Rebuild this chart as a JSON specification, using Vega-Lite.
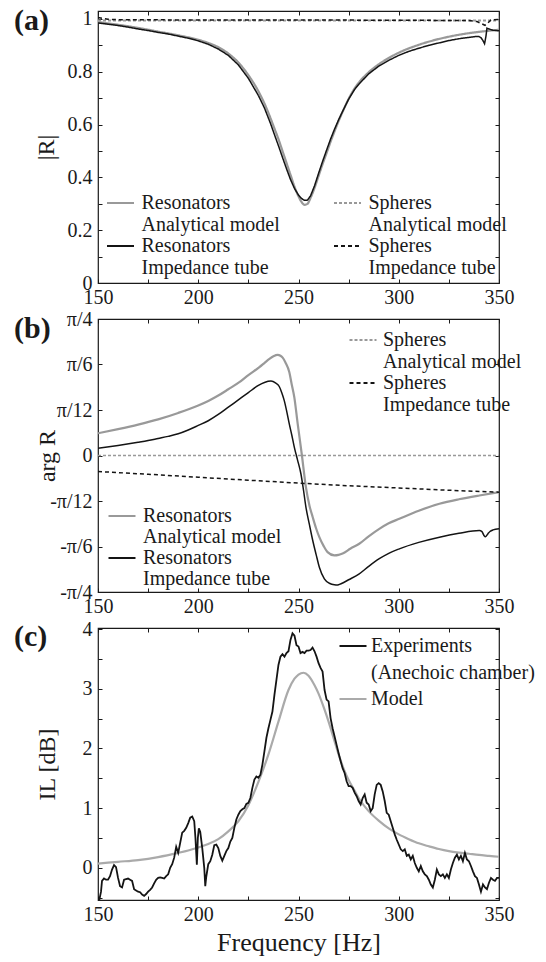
{
  "$schema": "https://vega.github.io/schema/vega-lite/v6.json",
  "background": "white",
  "padding": {"left": 13, "top": 5, "right": 5, "bottom": 5},
  "autosize": {"type": "pad"},
  "spacing": 36,
  "bounds": "flush",
  "resolve": {"scale": {"color": "independent", "strokeDash": "independent"}},
  "config": {
    "font": "Liberation Serif",
    "view": {"stroke": "#1a1a1a", "strokeWidth": 1.2},
    "axis": {"domain": false, "grid": false, "tickSize": -4, "tickColor": "#1a1a1a", "tickWidth": 1, "labelFont": "Liberation Serif", "labelFontSize": 20, "labelColor": "#1a1a1a", "labelPadding": 10, "labelFlush": false, "titleFont": "Liberation Serif", "titleFontSize": 24, "titleFontWeight": "normal", "titleColor": "#1a1a1a"},
    "axisX": {"labelPadding": 8},
    "legend": {"labelFont": "Liberation Serif", "labelFontSize": 20, "labelColor": "#1a1a1a", "symbolType": "M-3,0H3", "symbolSize": 81, "symbolStrokeWidth": 2, "padding": 0, "rowPadding": 1, "labelOffset": 11, "labelLimit": 400},
    "title": {"font": "Liberation Serif", "fontSize": 30, "fontWeight": "bold", "anchor": "start", "frame": "group", "color": "#1a1a1a", "baseline": "alphabetic"}
  },
  "datasets": {
    "a": [
      {"f":150,"v":0.988,"s":"m~Resonators~ra"},{"f":160,"v":0.978,"s":"m~Resonators~ra"},{"f":170,"v":0.966,"s":"m~Resonators~ra"},{"f":180,"v":0.952,"s":"m~Resonators~ra"},{"f":190,"v":0.938,"s":"m~Resonators~ra"},{"f":200,"v":0.921,"s":"m~Resonators~ra"},{"f":205,"v":0.909,"s":"m~Resonators~ra"},{"f":210,"v":0.893,"s":"m~Resonators~ra"},{"f":215,"v":0.869,"s":"m~Resonators~ra"},{"f":220,"v":0.835,"s":"m~Resonators~ra"},{"f":225,"v":0.787,"s":"m~Resonators~ra"},{"f":230,"v":0.726,"s":"m~Resonators~ra"},{"f":233,"v":0.68,"s":"m~Resonators~ra"},{"f":236,"v":0.625,"s":"m~Resonators~ra"},{"f":238,"v":0.585,"s":"m~Resonators~ra"},{"f":240,"v":0.545,"s":"m~Resonators~ra"},{"f":242,"v":0.5,"s":"m~Resonators~ra"},{"f":244,"v":0.455,"s":"m~Resonators~ra"},{"f":246,"v":0.41,"s":"m~Resonators~ra"},{"f":248,"v":0.365,"s":"m~Resonators~ra"},{"f":250,"v":0.328,"s":"m~Resonators~ra"},{"f":251.5,"v":0.307,"s":"m~Resonators~ra"},{"f":253,"v":0.296,"s":"m~Resonators~ra"},{"f":254.5,"v":0.3,"s":"m~Resonators~ra"},{"f":256,"v":0.322,"s":"m~Resonators~ra"},{"f":258,"v":0.36,"s":"m~Resonators~ra"},{"f":260,"v":0.405,"s":"m~Resonators~ra"},{"f":262,"v":0.45,"s":"m~Resonators~ra"},{"f":264,"v":0.492,"s":"m~Resonators~ra"},{"f":266,"v":0.535,"s":"m~Resonators~ra"},{"f":268,"v":0.575,"s":"m~Resonators~ra"},{"f":270,"v":0.613,"s":"m~Resonators~ra"},{"f":272,"v":0.648,"s":"m~Resonators~ra"},{"f":275,"v":0.697,"s":"m~Resonators~ra"},{"f":278,"v":0.737,"s":"m~Resonators~ra"},{"f":280,"v":0.758,"s":"m~Resonators~ra"},{"f":285,"v":0.798,"s":"m~Resonators~ra"},{"f":290,"v":0.828,"s":"m~Resonators~ra"},{"f":295,"v":0.852,"s":"m~Resonators~ra"},{"f":300,"v":0.872,"s":"m~Resonators~ra"},{"f":310,"v":0.902,"s":"m~Resonators~ra"},{"f":320,"v":0.924,"s":"m~Resonators~ra"},{"f":330,"v":0.94,"s":"m~Resonators~ra"},{"f":340,"v":0.951,"s":"m~Resonators~ra"},{"f":350,"v":0.959,"s":"m~Resonators~ra"},
      {"f":150,"v":0.994,"s":"m~Spheres~sa"},{"f":200,"v":0.994,"s":"m~Spheres~sa"},{"f":250,"v":0.994,"s":"m~Spheres~sa"},{"f":300,"v":0.994,"s":"m~Spheres~sa"},{"f":350,"v":0.994,"s":"m~Spheres~sa"},
      {"f":150,"v":0.985,"s":"m~Resonators~ri"},{"f":155,"v":0.98,"s":"m~Resonators~ri"},{"f":160,"v":0.975,"s":"m~Resonators~ri"},{"f":165,"v":0.969,"s":"m~Resonators~ri"},{"f":170,"v":0.962,"s":"m~Resonators~ri"},{"f":175,"v":0.956,"s":"m~Resonators~ri"},{"f":180,"v":0.949,"s":"m~Resonators~ri"},{"f":185,"v":0.943,"s":"m~Resonators~ri"},{"f":190,"v":0.935,"s":"m~Resonators~ri"},{"f":195,"v":0.927,"s":"m~Resonators~ri"},{"f":200,"v":0.917,"s":"m~Resonators~ri"},{"f":205,"v":0.904,"s":"m~Resonators~ri"},{"f":210,"v":0.886,"s":"m~Resonators~ri"},{"f":215,"v":0.862,"s":"m~Resonators~ri"},{"f":220,"v":0.826,"s":"m~Resonators~ri"},{"f":225,"v":0.775,"s":"m~Resonators~ri"},{"f":230,"v":0.71,"s":"m~Resonators~ri"},{"f":233,"v":0.663,"s":"m~Resonators~ri"},{"f":236,"v":0.605,"s":"m~Resonators~ri"},{"f":238,"v":0.562,"s":"m~Resonators~ri"},{"f":240,"v":0.52,"s":"m~Resonators~ri"},{"f":242,"v":0.476,"s":"m~Resonators~ri"},{"f":244,"v":0.433,"s":"m~Resonators~ri"},{"f":246,"v":0.392,"s":"m~Resonators~ri"},{"f":248,"v":0.358,"s":"m~Resonators~ri"},{"f":250,"v":0.333,"s":"m~Resonators~ri"},{"f":251.5,"v":0.32,"s":"m~Resonators~ri"},{"f":253,"v":0.313,"s":"m~Resonators~ri"},{"f":254.5,"v":0.314,"s":"m~Resonators~ri"},{"f":256,"v":0.33,"s":"m~Resonators~ri"},{"f":258,"v":0.368,"s":"m~Resonators~ri"},{"f":260,"v":0.415,"s":"m~Resonators~ri"},{"f":262,"v":0.46,"s":"m~Resonators~ri"},{"f":264,"v":0.503,"s":"m~Resonators~ri"},{"f":266,"v":0.545,"s":"m~Resonators~ri"},{"f":268,"v":0.583,"s":"m~Resonators~ri"},{"f":270,"v":0.618,"s":"m~Resonators~ri"},{"f":272,"v":0.65,"s":"m~Resonators~ri"},{"f":275,"v":0.696,"s":"m~Resonators~ri"},{"f":278,"v":0.733,"s":"m~Resonators~ri"},{"f":280,"v":0.752,"s":"m~Resonators~ri"},{"f":285,"v":0.792,"s":"m~Resonators~ri"},{"f":290,"v":0.821,"s":"m~Resonators~ri"},{"f":295,"v":0.843,"s":"m~Resonators~ri"},{"f":300,"v":0.862,"s":"m~Resonators~ri"},{"f":305,"v":0.877,"s":"m~Resonators~ri"},{"f":310,"v":0.889,"s":"m~Resonators~ri"},{"f":315,"v":0.9,"s":"m~Resonators~ri"},{"f":320,"v":0.909,"s":"m~Resonators~ri"},{"f":325,"v":0.918,"s":"m~Resonators~ri"},{"f":330,"v":0.925,"s":"m~Resonators~ri"},{"f":335,"v":0.93,"s":"m~Resonators~ri"},{"f":338,"v":0.933,"s":"m~Resonators~ri"},{"f":340,"v":0.933,"s":"m~Resonators~ri"},{"f":341,"v":0.929,"s":"m~Resonators~ri"},{"f":342,"v":0.918,"s":"m~Resonators~ri"},{"f":342.8,"v":0.906,"s":"m~Resonators~ri"},{"f":343.5,"v":0.935,"s":"m~Resonators~ri"},{"f":344,"v":0.965,"s":"m~Resonators~ri"},{"f":345,"v":0.962,"s":"m~Resonators~ri"},{"f":347,"v":0.957,"s":"m~Resonators~ri"},{"f":350,"v":0.955,"s":"m~Resonators~ri"},
      {"f":150,"v":1.005,"s":"m~Spheres~si"},{"f":155,"v":0.999,"s":"m~Spheres~si"},{"f":160,"v":0.997,"s":"m~Spheres~si"},{"f":200,"v":0.996,"s":"m~Spheres~si"},{"f":250,"v":0.996,"s":"m~Spheres~si"},{"f":300,"v":0.995,"s":"m~Spheres~si"},{"f":335,"v":0.994,"s":"m~Spheres~si"},{"f":339,"v":0.99,"s":"m~Spheres~si"},{"f":341,"v":0.983,"s":"m~Spheres~si"},{"f":343,"v":0.976,"s":"m~Spheres~si"},{"f":344.5,"v":0.985,"s":"m~Spheres~si"},{"f":346,"v":0.996,"s":"m~Spheres~si"},{"f":350,"v":0.998,"s":"m~Spheres~si"}
    ],
    "b": [
      {"f":150,"v":0.128,"s":"m~Resonators~ra"},{"f":160,"v":0.152,"s":"m~Resonators~ra"},{"f":170,"v":0.178,"s":"m~Resonators~ra"},{"f":180,"v":0.208,"s":"m~Resonators~ra"},{"f":190,"v":0.245,"s":"m~Resonators~ra"},{"f":200,"v":0.288,"s":"m~Resonators~ra"},{"f":205,"v":0.314,"s":"m~Resonators~ra"},{"f":210,"v":0.345,"s":"m~Resonators~ra"},{"f":215,"v":0.381,"s":"m~Resonators~ra"},{"f":220.5,"v":0.422,"s":"m~Resonators~ra"},{"f":225,"v":0.463,"s":"m~Resonators~ra"},{"f":230.5,"v":0.508,"s":"m~Resonators~ra"},{"f":233,"v":0.532,"s":"m~Resonators~ra"},{"f":235.5,"v":0.556,"s":"m~Resonators~ra"},{"f":237.5,"v":0.571,"s":"m~Resonators~ra"},{"f":239.6,"v":0.579,"s":"m~Resonators~ra"},{"f":241,"v":0.574,"s":"m~Resonators~ra"},{"f":242.1,"v":0.563,"s":"m~Resonators~ra"},{"f":243.5,"v":0.535,"s":"m~Resonators~ra"},{"f":245.4,"v":0.48,"s":"m~Resonators~ra"},{"f":246.6,"v":0.41,"s":"m~Resonators~ra"},{"f":247.9,"v":0.336,"s":"m~Resonators~ra"},{"f":249.6,"v":0.182,"s":"m~Resonators~ra"},{"f":251.6,"v":0.01,"s":"m~Resonators~ra"},{"f":253.7,"v":-0.182,"s":"m~Resonators~ra"},{"f":255.5,"v":-0.29,"s":"m~Resonators~ra"},{"f":257.1,"v":-0.355,"s":"m~Resonators~ra"},{"f":258.8,"v":-0.42,"s":"m~Resonators~ra"},{"f":260.4,"v":-0.47,"s":"m~Resonators~ra"},{"f":262.5,"v":-0.52,"s":"m~Resonators~ra"},{"f":264.5,"v":-0.556,"s":"m~Resonators~ra"},{"f":267.9,"v":-0.575,"s":"m~Resonators~ra"},{"f":270,"v":-0.572,"s":"m~Resonators~ra"},{"f":272,"v":-0.564,"s":"m~Resonators~ra"},{"f":276,"v":-0.535,"s":"m~Resonators~ra"},{"f":280.3,"v":-0.508,"s":"m~Resonators~ra"},{"f":285,"v":-0.465,"s":"m~Resonators~ra"},{"f":290.3,"v":-0.422,"s":"m~Resonators~ra"},{"f":295,"v":-0.39,"s":"m~Resonators~ra"},{"f":300.3,"v":-0.364,"s":"m~Resonators~ra"},{"f":310,"v":-0.318,"s":"m~Resonators~ra"},{"f":320.3,"v":-0.278,"s":"m~Resonators~ra"},{"f":330,"v":-0.252,"s":"m~Resonators~ra"},{"f":340.2,"v":-0.23,"s":"m~Resonators~ra"},{"f":350,"v":-0.211,"s":"m~Resonators~ra"},
      {"f":150,"v":0.042,"s":"m~Resonators~ri"},{"f":160,"v":0.058,"s":"m~Resonators~ri"},{"f":170,"v":0.076,"s":"m~Resonators~ri"},{"f":175,"v":0.086,"s":"m~Resonators~ri"},{"f":180,"v":0.098,"s":"m~Resonators~ri"},{"f":185,"v":0.11,"s":"m~Resonators~ri"},{"f":190,"v":0.125,"s":"m~Resonators~ri"},{"f":195,"v":0.147,"s":"m~Resonators~ri"},{"f":200,"v":0.173,"s":"m~Resonators~ri"},{"f":205,"v":0.2,"s":"m~Resonators~ri"},{"f":210,"v":0.236,"s":"m~Resonators~ri"},{"f":215,"v":0.278,"s":"m~Resonators~ri"},{"f":220,"v":0.32,"s":"m~Resonators~ri"},{"f":225,"v":0.362,"s":"m~Resonators~ri"},{"f":230,"v":0.403,"s":"m~Resonators~ri"},{"f":233,"v":0.42,"s":"m~Resonators~ri"},{"f":236.3,"v":0.428,"s":"m~Resonators~ri"},{"f":238.5,"v":0.418,"s":"m~Resonators~ri"},{"f":240.4,"v":0.397,"s":"m~Resonators~ri"},{"f":241.7,"v":0.36,"s":"m~Resonators~ri"},{"f":242.9,"v":0.316,"s":"m~Resonators~ri"},{"f":244.2,"v":0.25,"s":"m~Resonators~ri"},{"f":245.4,"v":0.182,"s":"m~Resonators~ri"},{"f":246.7,"v":0.115,"s":"m~Resonators~ri"},{"f":247.9,"v":0.048,"s":"m~Resonators~ri"},{"f":249.5,"v":-0.025,"s":"m~Resonators~ri"},{"f":251.2,"v":-0.105,"s":"m~Resonators~ri"},{"f":252.5,"v":-0.2,"s":"m~Resonators~ri"},{"f":253.7,"v":-0.297,"s":"m~Resonators~ri"},{"f":255.4,"v":-0.395,"s":"m~Resonators~ri"},{"f":257.1,"v":-0.489,"s":"m~Resonators~ri"},{"f":258.8,"v":-0.57,"s":"m~Resonators~ri"},{"f":260.4,"v":-0.643,"s":"m~Resonators~ri"},{"f":262.9,"v":-0.71,"s":"m~Resonators~ri"},{"f":265.4,"v":-0.735,"s":"m~Resonators~ri"},{"f":267.9,"v":-0.744,"s":"m~Resonators~ri"},{"f":269.5,"v":-0.745,"s":"m~Resonators~ri"},{"f":271.2,"v":-0.738,"s":"m~Resonators~ri"},{"f":275,"v":-0.715,"s":"m~Resonators~ri"},{"f":280.3,"v":-0.681,"s":"m~Resonators~ri"},{"f":285,"v":-0.638,"s":"m~Resonators~ri"},{"f":290.3,"v":-0.594,"s":"m~Resonators~ri"},{"f":295,"v":-0.563,"s":"m~Resonators~ri"},{"f":300.3,"v":-0.537,"s":"m~Resonators~ri"},{"f":310,"v":-0.5,"s":"m~Resonators~ri"},{"f":320.3,"v":-0.47,"s":"m~Resonators~ri"},{"f":330,"v":-0.448,"s":"m~Resonators~ri"},{"f":340.2,"v":-0.432,"s":"m~Resonators~ri"},{"f":341.5,"v":-0.438,"s":"m~Resonators~ri"},{"f":342.5,"v":-0.46,"s":"m~Resonators~ri"},{"f":343.3,"v":-0.467,"s":"m~Resonators~ri"},{"f":344.5,"v":-0.45,"s":"m~Resonators~ri"},{"f":345.5,"v":-0.437,"s":"m~Resonators~ri"},{"f":347,"v":-0.428,"s":"m~Resonators~ri"},{"f":350,"v":-0.422,"s":"m~Resonators~ri"},
      {"f":150,"v":0,"s":"m~Spheres~sa"},{"f":350,"v":0,"s":"m~Spheres~sa"},
      {"f":150,"v":-0.092,"s":"m~Spheres~si"},{"f":175,"v":-0.108,"s":"m~Spheres~si"},{"f":200,"v":-0.125,"s":"m~Spheres~si"},{"f":225,"v":-0.142,"s":"m~Spheres~si"},{"f":250,"v":-0.159,"s":"m~Spheres~si"},{"f":275,"v":-0.174,"s":"m~Spheres~si"},{"f":300,"v":-0.187,"s":"m~Spheres~si"},{"f":325,"v":-0.2,"s":"m~Spheres~si"},{"f":350,"v":-0.211,"s":"m~Spheres~si"}
    ],
    "cm": [
      {"f":150,"v":0.07,"s":"m~Model~m"},{"f":160,"v":0.1,"s":"m~Model~m"},{"f":170,"v":0.13,"s":"m~Model~m"},{"f":180,"v":0.18,"s":"m~Model~m"},{"f":190,"v":0.25,"s":"m~Model~m"},{"f":195,"v":0.29,"s":"m~Model~m"},{"f":200,"v":0.34,"s":"m~Model~m"},{"f":205,"v":0.4,"s":"m~Model~m"},{"f":210,"v":0.48,"s":"m~Model~m"},{"f":215,"v":0.61,"s":"m~Model~m"},{"f":220,"v":0.78,"s":"m~Model~m"},{"f":225,"v":1.05,"s":"m~Model~m"},{"f":230,"v":1.44,"s":"m~Model~m"},{"f":235,"v":1.9,"s":"m~Model~m"},{"f":240,"v":2.45,"s":"m~Model~m"},{"f":245,"v":2.98,"s":"m~Model~m"},{"f":248,"v":3.17,"s":"m~Model~m"},{"f":250,"v":3.24,"s":"m~Model~m"},{"f":252.5,"v":3.27,"s":"m~Model~m"},{"f":255,"v":3.22,"s":"m~Model~m"},{"f":258,"v":3.06,"s":"m~Model~m"},{"f":260,"v":2.92,"s":"m~Model~m"},{"f":263,"v":2.65,"s":"m~Model~m"},{"f":265,"v":2.45,"s":"m~Model~m"},{"f":268,"v":2.12,"s":"m~Model~m"},{"f":270,"v":1.9,"s":"m~Model~m"},{"f":273,"v":1.62,"s":"m~Model~m"},{"f":275,"v":1.47,"s":"m~Model~m"},{"f":278,"v":1.29,"s":"m~Model~m"},{"f":280,"v":1.17,"s":"m~Model~m"},{"f":285,"v":0.95,"s":"m~Model~m"},{"f":290,"v":0.79,"s":"m~Model~m"},{"f":295,"v":0.66,"s":"m~Model~m"},{"f":300,"v":0.56,"s":"m~Model~m"},{"f":305,"v":0.48,"s":"m~Model~m"},{"f":310,"v":0.41,"s":"m~Model~m"},{"f":315,"v":0.36,"s":"m~Model~m"},{"f":320,"v":0.315,"s":"m~Model~m"},{"f":325,"v":0.28,"s":"m~Model~m"},{"f":330,"v":0.255,"s":"m~Model~m"},{"f":335,"v":0.235,"s":"m~Model~m"},{"f":340,"v":0.215,"s":"m~Model~m"},{"f":345,"v":0.2,"s":"m~Model~m"},{"f":350,"v":0.185,"s":"m~Model~m"}
    ],
    "ce": [
      {"f":150,"v":-0.5,"s":"m~Experiments~e"},{"f":150.7,"v":-0.53,"s":"m~Experiments~e"},{"f":151.5,"v":-0.4,"s":"m~Experiments~e"},{"f":152,"v":-0.22,"s":"m~Experiments~e"},{"f":153,"v":-0.18,"s":"m~Experiments~e"},{"f":154,"v":-0.2,"s":"m~Experiments~e"},{"f":155,"v":-0.2,"s":"m~Experiments~e"},{"f":156,"v":-0.14,"s":"m~Experiments~e"},{"f":157,"v":-0.03,"s":"m~Experiments~e"},{"f":158,"v":0.045,"s":"m~Experiments~e"},{"f":159,"v":0.01,"s":"m~Experiments~e"},{"f":160,"v":-0.17,"s":"m~Experiments~e"},{"f":161,"v":-0.31,"s":"m~Experiments~e"},{"f":162,"v":-0.33,"s":"m~Experiments~e"},{"f":163,"v":-0.2,"s":"m~Experiments~e"},{"f":164,"v":-0.19,"s":"m~Experiments~e"},{"f":165,"v":-0.18,"s":"m~Experiments~e"},{"f":166,"v":-0.2,"s":"m~Experiments~e"},{"f":167,"v":-0.22,"s":"m~Experiments~e"},{"f":168,"v":-0.36,"s":"m~Experiments~e"},{"f":169,"v":-0.38,"s":"m~Experiments~e"},{"f":170,"v":-0.4,"s":"m~Experiments~e"},{"f":171,"v":-0.41,"s":"m~Experiments~e"},{"f":172,"v":-0.45,"s":"m~Experiments~e"},{"f":173,"v":-0.47,"s":"m~Experiments~e"},{"f":174,"v":-0.44,"s":"m~Experiments~e"},{"f":175,"v":-0.4,"s":"m~Experiments~e"},{"f":176,"v":-0.37,"s":"m~Experiments~e"},{"f":177,"v":-0.33,"s":"m~Experiments~e"},{"f":178,"v":-0.26,"s":"m~Experiments~e"},{"f":179,"v":-0.2,"s":"m~Experiments~e"},{"f":180,"v":-0.17,"s":"m~Experiments~e"},{"f":181,"v":-0.16,"s":"m~Experiments~e"},{"f":182,"v":-0.17,"s":"m~Experiments~e"},{"f":183,"v":-0.18,"s":"m~Experiments~e"},{"f":184,"v":-0.14,"s":"m~Experiments~e"},{"f":185,"v":-0.11,"s":"m~Experiments~e"},{"f":186,"v":0,"s":"m~Experiments~e"},{"f":187,"v":0.06,"s":"m~Experiments~e"},{"f":188,"v":0.17,"s":"m~Experiments~e"},{"f":189,"v":0.35,"s":"m~Experiments~e"},{"f":190,"v":0.25,"s":"m~Experiments~e"},{"f":191,"v":0.42,"s":"m~Experiments~e"},{"f":192,"v":0.59,"s":"m~Experiments~e"},{"f":193,"v":0.62,"s":"m~Experiments~e"},{"f":194,"v":0.67,"s":"m~Experiments~e"},{"f":195,"v":0.75,"s":"m~Experiments~e"},{"f":196,"v":0.84,"s":"m~Experiments~e"},{"f":197,"v":0.86,"s":"m~Experiments~e"},{"f":198,"v":0.78,"s":"m~Experiments~e"},{"f":198.6,"v":0.5,"s":"m~Experiments~e"},{"f":199.3,"v":0.05,"s":"m~Experiments~e"},{"f":199.8,"v":0.5,"s":"m~Experiments~e"},{"f":200.3,"v":0.66,"s":"m~Experiments~e"},{"f":201,"v":0.6,"s":"m~Experiments~e"},{"f":202,"v":0.33,"s":"m~Experiments~e"},{"f":203,"v":0,"s":"m~Experiments~e"},{"f":203.5,"v":-0.31,"s":"m~Experiments~e"},{"f":204,"v":-0.15,"s":"m~Experiments~e"},{"f":205,"v":0.06,"s":"m~Experiments~e"},{"f":206,"v":0.11,"s":"m~Experiments~e"},{"f":207,"v":0.22,"s":"m~Experiments~e"},{"f":208,"v":0.38,"s":"m~Experiments~e"},{"f":209,"v":0.39,"s":"m~Experiments~e"},{"f":210,"v":0.33,"s":"m~Experiments~e"},{"f":211,"v":0.2,"s":"m~Experiments~e"},{"f":212,"v":0.12,"s":"m~Experiments~e"},{"f":213,"v":0.2,"s":"m~Experiments~e"},{"f":214,"v":0.28,"s":"m~Experiments~e"},{"f":215,"v":0.33,"s":"m~Experiments~e"},{"f":216,"v":0.44,"s":"m~Experiments~e"},{"f":217,"v":0.5,"s":"m~Experiments~e"},{"f":218,"v":0.67,"s":"m~Experiments~e"},{"f":219,"v":0.81,"s":"m~Experiments~e"},{"f":220,"v":0.89,"s":"m~Experiments~e"},{"f":221,"v":0.95,"s":"m~Experiments~e"},{"f":222,"v":0.98,"s":"m~Experiments~e"},{"f":223,"v":1.0,"s":"m~Experiments~e"},{"f":224,"v":1.07,"s":"m~Experiments~e"},{"f":225,"v":1.09,"s":"m~Experiments~e"},{"f":226,"v":1.17,"s":"m~Experiments~e"},{"f":227,"v":1.34,"s":"m~Experiments~e"},{"f":228,"v":1.48,"s":"m~Experiments~e"},{"f":229,"v":1.53,"s":"m~Experiments~e"},{"f":230,"v":1.51,"s":"m~Experiments~e"},{"f":231,"v":1.56,"s":"m~Experiments~e"},{"f":232,"v":1.73,"s":"m~Experiments~e"},{"f":233,"v":1.95,"s":"m~Experiments~e"},{"f":234,"v":2.18,"s":"m~Experiments~e"},{"f":235,"v":2.34,"s":"m~Experiments~e"},{"f":236,"v":2.48,"s":"m~Experiments~e"},{"f":237,"v":2.62,"s":"m~Experiments~e"},{"f":238,"v":2.9,"s":"m~Experiments~e"},{"f":239,"v":3.15,"s":"m~Experiments~e"},{"f":240,"v":3.4,"s":"m~Experiments~e"},{"f":241,"v":3.54,"s":"m~Experiments~e"},{"f":242,"v":3.58,"s":"m~Experiments~e"},{"f":243,"v":3.54,"s":"m~Experiments~e"},{"f":244,"v":3.6,"s":"m~Experiments~e"},{"f":245,"v":3.63,"s":"m~Experiments~e"},{"f":246,"v":3.82,"s":"m~Experiments~e"},{"f":247,"v":3.93,"s":"m~Experiments~e"},{"f":248,"v":3.89,"s":"m~Experiments~e"},{"f":249,"v":3.73,"s":"m~Experiments~e"},{"f":250,"v":3.71,"s":"m~Experiments~e"},{"f":251,"v":3.6,"s":"m~Experiments~e"},{"f":252,"v":3.62,"s":"m~Experiments~e"},{"f":253,"v":3.6,"s":"m~Experiments~e"},{"f":254,"v":3.64,"s":"m~Experiments~e"},{"f":255,"v":3.64,"s":"m~Experiments~e"},{"f":256,"v":3.65,"s":"m~Experiments~e"},{"f":257,"v":3.69,"s":"m~Experiments~e"},{"f":258,"v":3.63,"s":"m~Experiments~e"},{"f":259,"v":3.54,"s":"m~Experiments~e"},{"f":260,"v":3.43,"s":"m~Experiments~e"},{"f":261,"v":3.35,"s":"m~Experiments~e"},{"f":262,"v":3.29,"s":"m~Experiments~e"},{"f":263,"v":2.98,"s":"m~Experiments~e"},{"f":264,"v":2.82,"s":"m~Experiments~e"},{"f":265,"v":2.79,"s":"m~Experiments~e"},{"f":266,"v":2.51,"s":"m~Experiments~e"},{"f":267,"v":2.34,"s":"m~Experiments~e"},{"f":268,"v":2.2,"s":"m~Experiments~e"},{"f":269,"v":2.06,"s":"m~Experiments~e"},{"f":270,"v":1.92,"s":"m~Experiments~e"},{"f":271,"v":1.79,"s":"m~Experiments~e"},{"f":272,"v":1.67,"s":"m~Experiments~e"},{"f":273,"v":1.59,"s":"m~Experiments~e"},{"f":274,"v":1.45,"s":"m~Experiments~e"},{"f":275,"v":1.37,"s":"m~Experiments~e"},{"f":276,"v":1.37,"s":"m~Experiments~e"},{"f":277,"v":1.34,"s":"m~Experiments~e"},{"f":278,"v":1.26,"s":"m~Experiments~e"},{"f":279,"v":1.2,"s":"m~Experiments~e"},{"f":280,"v":1.12,"s":"m~Experiments~e"},{"f":281,"v":1.06,"s":"m~Experiments~e"},{"f":282,"v":1.17,"s":"m~Experiments~e"},{"f":283,"v":1.23,"s":"m~Experiments~e"},{"f":284,"v":1.09,"s":"m~Experiments~e"},{"f":285,"v":1.06,"s":"m~Experiments~e"},{"f":286,"v":0.95,"s":"m~Experiments~e"},{"f":287,"v":1.0,"s":"m~Experiments~e"},{"f":288,"v":1.23,"s":"m~Experiments~e"},{"f":289,"v":1.39,"s":"m~Experiments~e"},{"f":290,"v":1.42,"s":"m~Experiments~e"},{"f":291,"v":1.39,"s":"m~Experiments~e"},{"f":292,"v":1.28,"s":"m~Experiments~e"},{"f":293,"v":1.12,"s":"m~Experiments~e"},{"f":294,"v":0.92,"s":"m~Experiments~e"},{"f":295,"v":0.89,"s":"m~Experiments~e"},{"f":296,"v":0.78,"s":"m~Experiments~e"},{"f":297,"v":0.67,"s":"m~Experiments~e"},{"f":298,"v":0.56,"s":"m~Experiments~e"},{"f":299,"v":0.47,"s":"m~Experiments~e"},{"f":300,"v":0.39,"s":"m~Experiments~e"},{"f":301,"v":0.31,"s":"m~Experiments~e"},{"f":302,"v":0.28,"s":"m~Experiments~e"},{"f":303,"v":0.31,"s":"m~Experiments~e"},{"f":304,"v":0.2,"s":"m~Experiments~e"},{"f":305,"v":0.22,"s":"m~Experiments~e"},{"f":306,"v":0.14,"s":"m~Experiments~e"},{"f":307,"v":0.2,"s":"m~Experiments~e"},{"f":308,"v":0.08,"s":"m~Experiments~e"},{"f":309,"v":0,"s":"m~Experiments~e"},{"f":310,"v":-0.06,"s":"m~Experiments~e"},{"f":311,"v":0.03,"s":"m~Experiments~e"},{"f":312,"v":-0.06,"s":"m~Experiments~e"},{"f":313,"v":-0.11,"s":"m~Experiments~e"},{"f":314,"v":-0.14,"s":"m~Experiments~e"},{"f":315,"v":-0.2,"s":"m~Experiments~e"},{"f":316,"v":-0.28,"s":"m~Experiments~e"},{"f":317,"v":-0.33,"s":"m~Experiments~e"},{"f":318,"v":-0.2,"s":"m~Experiments~e"},{"f":319,"v":-0.03,"s":"m~Experiments~e"},{"f":320,"v":-0.11,"s":"m~Experiments~e"},{"f":321,"v":-0.14,"s":"m~Experiments~e"},{"f":322,"v":-0.11,"s":"m~Experiments~e"},{"f":323,"v":-0.17,"s":"m~Experiments~e"},{"f":324,"v":-0.11,"s":"m~Experiments~e"},{"f":325,"v":-0.17,"s":"m~Experiments~e"},{"f":326,"v":-0.03,"s":"m~Experiments~e"},{"f":327,"v":0.08,"s":"m~Experiments~e"},{"f":328,"v":0.17,"s":"m~Experiments~e"},{"f":329,"v":0.22,"s":"m~Experiments~e"},{"f":330,"v":0.14,"s":"m~Experiments~e"},{"f":331,"v":0.2,"s":"m~Experiments~e"},{"f":332,"v":0.11,"s":"m~Experiments~e"},{"f":333,"v":0.25,"s":"m~Experiments~e"},{"f":334,"v":0.14,"s":"m~Experiments~e"},{"f":335,"v":0.11,"s":"m~Experiments~e"},{"f":336,"v":0.03,"s":"m~Experiments~e"},{"f":337,"v":-0.06,"s":"m~Experiments~e"},{"f":338,"v":-0.14,"s":"m~Experiments~e"},{"f":339,"v":-0.17,"s":"m~Experiments~e"},{"f":340,"v":-0.28,"s":"m~Experiments~e"},{"f":341,"v":-0.4,"s":"m~Experiments~e"},{"f":342,"v":-0.28,"s":"m~Experiments~e"},{"f":343,"v":-0.33,"s":"m~Experiments~e"},{"f":344,"v":-0.36,"s":"m~Experiments~e"},{"f":345,"v":-0.25,"s":"m~Experiments~e"},{"f":346,"v":-0.17,"s":"m~Experiments~e"},{"f":347,"v":-0.2,"s":"m~Experiments~e"},{"f":348,"v":-0.22,"s":"m~Experiments~e"},{"f":349,"v":-0.17,"s":"m~Experiments~e"},{"f":350,"v":-0.17,"s":"m~Experiments~e"}
    ]
  },
  "vconcat": [
    {
      "width": 401, "height": 272,
      "title": {"text": "(a)", "dx": -84, "offset": -27},
      "data": {"name": "a"},
      "resolve": {"axis": {"x": "independent", "y": "independent"}},
      "layer": [
        {
          "transform": [{"filter": {"field": "s", "oneOf": ["m~Resonators~ra", "m~Spheres~sa"]}}],
          "mark": {"type": "line", "strokeWidth": 2.2, "interpolate": "monotone", "clip": true},
          "encoding": {
            "x": {"field": "f", "type": "quantitative", "scale": {"domain": [150, 350], "nice": false}, "axis": {"values": [150,175,200,225,250,275,300,325,350], "labelExpr": "datum.value % 50 == 0 ? datum.label : ''", "title": null}},
            "y": {"field": "v", "type": "quantitative", "scale": {"domain": [0, 1.03], "nice": false, "zero": false}, "axis": {"values": [0,0.1,0.2,0.3,0.4,0.5,0.6,0.7,0.8,0.9,1], "format": "~g", "labelExpr": "round(datum.value*10) % 2 == 0 ? datum.label : ''", "title": "|R|", "titleX": -40}},
            "color": {"field": "s", "type": "nominal", "scale": {"domain": ["m~Resonators~ra", "s~Analytical model~ra", "m~Resonators~ri", "s~Impedance tube~ri", "m~Spheres~sa", "s~Analytical model~sa", "m~Spheres~si", "s~Impedance tube~si"], "range": ["#999999", "transparent", "#141414", "transparent", "#999999", "transparent", "#141414", "transparent"]},
              "legend": {"orient": "none", "legendX": 12.5, "legendY": 182, "columns": 2, "columnPadding": 49, "rowPadding": 1.5, "title": null, "labelExpr": "split(datum.label, '~')[1]"}},
            "strokeDash": {"field": "s", "type": "nominal", "scale": {"domain": ["m~Resonators~ra", "s~Analytical model~ra", "m~Resonators~ri", "s~Impedance tube~ri", "m~Spheres~sa", "s~Analytical model~sa", "m~Spheres~si", "s~Impedance tube~si"], "range": [[1,0],[1,0],[1,0],[1,0],[3,2],[1,0],[4,3],[1,0]]}}
          }
        },
        {
          "transform": [{"filter": {"field": "s", "oneOf": ["m~Resonators~ri", "m~Spheres~si"]}}],
          "mark": {"type": "line", "strokeWidth": 1.5, "clip": true},
          "encoding": {
            "x": {"field": "f", "type": "quantitative", "axis": {"orient": "top", "values": [150,175,200,225,250,275,300,325,350], "labels": false, "title": null}},
            "y": {"field": "v", "type": "quantitative", "axis": {"orient": "right", "values": [0,0.1,0.2,0.3,0.4,0.5,0.6,0.7,0.8,0.9,1], "labels": false, "title": null}},
            "color": {"field": "s", "type": "nominal"},
            "strokeDash": {"field": "s", "type": "nominal"}
          }
        }
      ]
    },
    {
      "width": 401, "height": 273,
      "title": {"text": "(b)", "dx": -84, "offset": -34.5},
      "data": {"name": "b"},
      "resolve": {"scale": {"color": "independent", "strokeDash": "independent"}, "axis": {"x": "independent", "y": "independent"}},
      "layer": [
        {
          "transform": [{"filter": {"field": "s", "oneOf": ["m~Resonators~ra", "m~Resonators~ri"]}}],
          "mark": {"type": "line", "interpolate": "monotone", "clip": true},
          "encoding": {
            "x": {"field": "f", "type": "quantitative", "scale": {"domain": [150, 350], "nice": false}, "axis": {"values": [150,175,200,225,250,275,300,325,350], "labelExpr": "datum.value % 50 == 0 ? datum.label : ''", "title": null}},
            "y": {"field": "v", "type": "quantitative", "scale": {"domain": [-0.7853982, 0.7853982], "nice": false, "zero": false}, "axis": {"values": [-0.7853982,-0.5235988,-0.2617994,0,0.2617994,0.5235988,0.7853982], "labelExpr": "round(datum.value*12/PI) == 3 ? 'π/4' : round(datum.value*12/PI) == 2 ? 'π/6' : round(datum.value*12/PI) == 1 ? 'π/12' : round(datum.value*12/PI) == 0 ? '0' : round(datum.value*12/PI) == -1 ? '-π/12' : round(datum.value*12/PI) == -2 ? '-π/6' : '-π/4'", "title": "arg R", "titleX": -39}},
            "strokeWidth": {"condition": {"test": "datum.s == 'm~Resonators~ra'", "value": 2.2}, "value": 1.5},
            "color": {"field": "s", "type": "nominal", "scale": {"domain": ["m~Resonators~ra", "s~Analytical model~ra", "m~Resonators~ri", "s~Impedance tube~ri"], "range": ["#999999", "transparent", "#141414", "transparent"]},
              "legend": {"orient": "none", "legendX": 14, "legendY": 187, "columns": 1, "rowPadding": 1, "title": null, "labelExpr": "split(datum.label, '~')[1]"}}
          }
        },
        {
          "transform": [{"filter": {"field": "s", "oneOf": ["m~Spheres~sa", "m~Spheres~si"]}}],
          "mark": {"type": "line", "strokeWidth": 1.5, "clip": true},
          "encoding": {
            "x": {"field": "f", "type": "quantitative", "axis": {"orient": "top", "values": [150,175,200,225,250,275,300,325,350], "labels": false, "title": null}},
            "y": {"field": "v", "type": "quantitative", "axis": {"orient": "right", "values": [-0.7853982,-0.5235988,-0.2617994,0,0.2617994,0.5235988,0.7853982], "labels": false, "title": null}},
            "color": {"field": "s", "type": "nominal", "scale": {"domain": ["m~Spheres~sa", "s~Analytical model~sa", "m~Spheres~si", "s~Impedance tube~si"], "range": ["#999999", "transparent", "#141414", "transparent"]},
              "legend": {"orient": "none", "legendX": 255, "legendY": 11, "columns": 1, "rowPadding": 1.5, "labelOffset": 10, "title": null, "labelExpr": "split(datum.label, '~')[1]"}},
            "strokeDash": {"field": "s", "type": "nominal", "scale": {"domain": ["m~Spheres~sa", "s~Analytical model~sa", "m~Spheres~si", "s~Impedance tube~si"], "range": [[3,2],[1,0],[4,3],[1,0]]}}
          }
        }
      ]
    },
    {
      "width": 401, "height": 272,
      "title": {"text": "(c)", "dx": -84, "offset": -32.5},
      "resolve": {"axis": {"x": "independent", "y": "independent"}},
      "layer": [
        {
          "data": {"name": "cm"},
          "mark": {"type": "line", "strokeWidth": 2.2, "interpolate": "monotone", "clip": true},
          "encoding": {
            "x": {"field": "f", "type": "quantitative", "scale": {"domain": [150, 350], "nice": false}, "axis": {"values": [150,175,200,225,250,275,300,325,350], "labelExpr": "datum.value % 50 == 0 ? datum.label : ''", "title": "Frequency [Hz]", "titleFontSize": 26, "titlePadding": 5}},
            "y": {"field": "v", "type": "quantitative", "scale": {"domain": [-0.54, 4.02], "nice": false, "zero": false}, "axis": {"values": [-0.5,0,0.5,1,1.5,2,2.5,3,3.5,4], "format": "~g", "labelExpr": "datum.value % 1 == 0 ? datum.label : ''", "title": "IL [dB]", "titleX": -39}},
            "color": {"field": "s", "type": "nominal", "scale": {"domain": ["m~Experiments~e", "s~(Anechoic chamber)~e", "m~Model~m"], "range": ["#141414", "transparent", "#aaaaaa"]},
              "legend": {"orient": "none", "legendX": 245, "legendY": 8, "columns": 1, "rowPadding": 6.5, "labelOffset": 8, "title": null, "labelExpr": "split(datum.label, '~')[1]"}}
          }
        },
        {
          "data": {"name": "ce"},
          "mark": {"type": "line", "strokeWidth": 1.8, "clip": true},
          "encoding": {
            "x": {"field": "f", "type": "quantitative", "axis": {"orient": "top", "values": [150,175,200,225,250,275,300,325,350], "labels": false, "title": null}},
            "y": {"field": "v", "type": "quantitative", "axis": {"orient": "right", "values": [-0.5,0,0.5,1,1.5,2,2.5,3,3.5,4], "labels": false, "title": null}},
            "color": {"field": "s", "type": "nominal"}
          }
        }
      ]
    }
  ]
}
